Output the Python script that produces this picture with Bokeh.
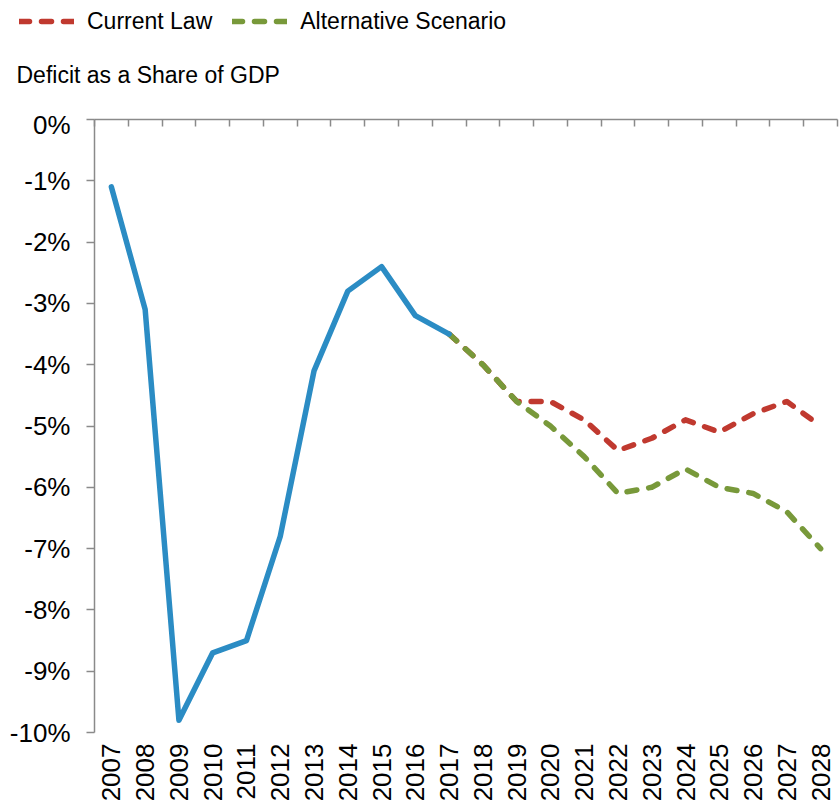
from bokeh.plotting import figure
from bokeh.layouts import column
from bokeh.models import (Range1d, FixedTicker, LinearAxis, PrintfTickFormatter,
                          CustomJSTickFormatter, Legend, LegendItem, Label)
from bokeh.embed import file_html
from bokeh.resources import INLINE
import numpy as np
import math

# ---- data ----
years_actual = [2007, 2008, 2009, 2010, 2011, 2012, 2013, 2014, 2015, 2016, 2017]
deficit_actual = [-1.1, -3.1, -9.8, -8.7, -8.5, -6.8, -4.1, -2.8, -2.4, -3.2, -3.5]

years_proj = [2017, 2018, 2019, 2020, 2021, 2022, 2023, 2024, 2025, 2026, 2027, 2028]
current_law = [-3.5, -4.0, -4.6, -4.6, -4.9, -5.4, -5.2, -4.9, -5.1, -4.8, -4.6, -5.0]
alternative = [-3.5, -4.0, -4.6, -5.0, -5.5, -6.1, -6.0, -5.7, -6.0, -6.1, -6.4, -7.0]

year_ticks = list(range(2007, 2029))
pct_ticks = list(range(-10, 1))
boundary_ticks = [y + 0.5 for y in range(2006, 2029)]

FONT = "Liberation Sans"
BLUE = "#2b8cc4"
RED = "#c0392f"
GREEN = "#78993a"
AXIS = "#8a8a8a"
W = 839
HEAD_H = 109

# ---------- header (legend + subtitle) ----------
head = figure(width=W, height=HEAD_H, x_range=Range1d(0, W), y_range=Range1d(0, HEAD_H),
              min_border=0, title=None, x_axis_location=None, y_axis_location=None,
              frame_align=False, output_backend="svg", toolbar_location=None)
head.grid.visible = False
head.outline_line_color = None
head.background_fill_color = "white"
head.border_fill_color = "white"

nan = np.array([np.nan])
d_cur = head.line(x=nan, y=nan, line_color=RED, line_width=5.5, line_dash="10 12",
                  line_cap="round")
d_alt = head.line(x=nan, y=nan, line_color=GREEN, line_width=5.5, line_dash="10 12",
                  line_cap="round")
legend = Legend(items=[LegendItem(label="Current Law", renderers=[d_cur]),
                       LegendItem(label="Alternative Scenario", renderers=[d_alt])],
                orientation="horizontal", location=(19, 74),
                glyph_width=55, glyph_height=28, label_standoff=13, spacing=20,
                padding=0, margin=0, border_line_color=None, background_fill_alpha=0,
                label_text_font=FONT, label_text_font_size="23px", label_text_color="black")
head.add_layout(legend, "center")
head.add_layout(Label(x=16, y=35, text="Deficit as a Share of GDP", text_font=FONT,
                      text_font_size="23px", text_color="black",
                      text_baseline="middle", text_align="left"))

# ---------- main chart ----------
p = figure(frame_width=743, frame_height=613, title=None,
           min_border_left=94, min_border_right=2, min_border_top=10, min_border_bottom=70,
           x_range=Range1d(2006.5, 2028.5), y_range=Range1d(-10, 0), frame_align=False,
           output_backend="svg", toolbar_location=None)
p.outline_line_color = None
p.xgrid.visible = False
p.ygrid.visible = False
p.background_fill_color = "white"
p.border_fill_color = "white"

ya = p.yaxis[0]
ya.ticker = FixedTicker(ticks=pct_ticks)
ya.formatter = PrintfTickFormatter(format="%d%%")
ya.axis_line_color = AXIS
ya.axis_line_width = 1.5
ya.major_tick_line_color = AXIS
ya.major_tick_line_width = 1.5
ya.major_tick_in = 0
ya.major_tick_out = 8
ya.minor_tick_line_color = None
ya.major_label_standoff = 16
ya.major_label_text_font = FONT
ya.major_label_text_font_size = "26px"
ya.major_label_text_color = "black"

xa = p.xaxis[0]
xa.ticker = FixedTicker(ticks=year_ticks)
xa.formatter = CustomJSTickFormatter(code="return String(Math.round(tick));")
xa.axis_line_color = None
xa.major_tick_line_color = None
xa.minor_tick_line_color = None
xa.major_label_orientation = math.pi / 2
xa.major_label_standoff = 5
xa.major_label_text_font = FONT
xa.major_label_text_font_size = "26px"
xa.major_label_text_color = "black"

top = LinearAxis(ticker=FixedTicker(ticks=boundary_ticks),
                 formatter=CustomJSTickFormatter(code="return '';"))
top.axis_line_color = AXIS
top.axis_line_width = 1.5
top.major_tick_line_color = AXIS
top.major_tick_line_width = 1.5
top.major_tick_in = 7
top.major_tick_out = 0
top.minor_tick_line_color = None
top.major_label_standoff = 0
top.major_label_text_font_size = "0px"
p.add_layout(top, "above")

p.line(years_proj, current_law, line_color=RED, line_width=5.5,
       line_dash="10 12", line_cap="round", line_join="round")
p.line(years_proj, alternative, line_color=GREEN, line_width=5.5,
       line_dash="10 12", line_cap="round", line_join="round")
p.line(years_actual, deficit_actual, line_color=BLUE, line_width=5.5,
       line_cap="round", line_join="round")

layout = column(head, p, spacing=0)
open("out.html", "w").write(file_html(layout, INLINE))
